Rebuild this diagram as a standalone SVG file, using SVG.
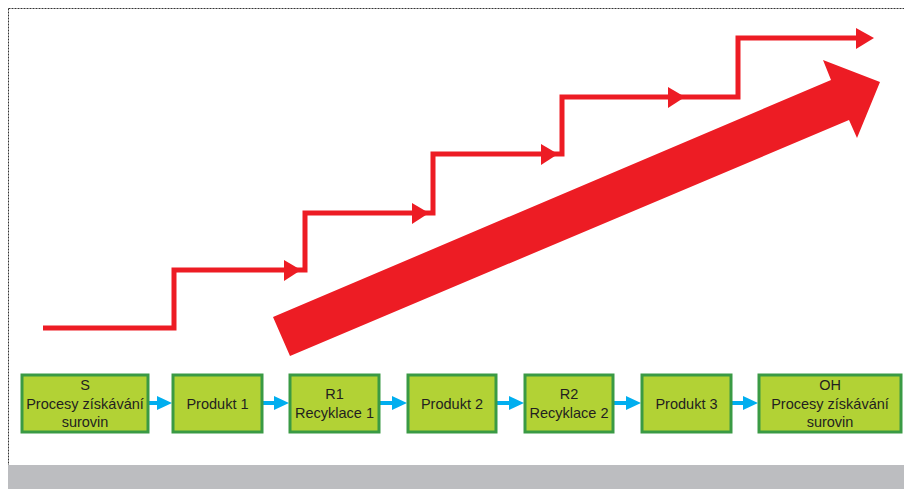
<svg xmlns="http://www.w3.org/2000/svg" width="904" height="489" viewBox="0 0 904 489">
<defs>
<style>
.box{fill:#b2d235;stroke:#3a9a44;stroke-width:3}
.lbl{font-family:"Liberation Sans",Arial,sans-serif;font-size:14.5px;fill:#231f20;text-anchor:middle}
.flow{stroke:#00aeef;stroke-width:4;fill:none}
.head{fill:#00aeef}
.stair{stroke:#ed1c24;stroke-width:5;fill:none;stroke-linejoin:miter}
.rhead{fill:#ed1c24}
</style>
</defs>
<rect x="0" y="0" width="904" height="489" fill="#ffffff"/>
<g id="frame">
<path d="M8.5 8.5 H904 M8.5 8.5 V465" stroke="#333" stroke-width="1" stroke-dasharray="2,1" fill="none"/>
<rect x="8" y="465" width="896" height="24" fill="#bcbdc0"/>
</g>
<g id="staircase">
<polyline class="stair" points="43,328 174,328 174,270 305,270 305,213 433,213 433,154 562,154 562,97 738,97 738,38 860,38"/>
<polygon class="rhead" points="284,260 301,270 284,281"/>
<polygon class="rhead" points="412,203 429,213 412,224"/>
<polygon class="rhead" points="541,144 558,154 541,165"/>
<polygon class="rhead" points="668,87 685,97 668,108"/>
<polygon class="rhead" points="856,28 874,38 856,49"/>
</g>
<g id="big-arrow">
<polygon class="rhead" points="273,317 831,80 823,60 880,82 857,138 849,120 290,356"/>
</g>
<g id="connectors">
<line class="flow" x1="149" y1="403" x2="159" y2="403"/>
<polygon class="head" points="157,396 172,403 157,410"/>
<line class="flow" x1="263" y1="403" x2="276" y2="403"/>
<polygon class="head" points="274,396 289,403 274,410"/>
<line class="flow" x1="380" y1="403" x2="394" y2="403"/>
<polygon class="head" points="392,396 407,403 392,410"/>
<line class="flow" x1="497" y1="403" x2="511" y2="403"/>
<polygon class="head" points="509,396 524,403 509,410"/>
<line class="flow" x1="614" y1="403" x2="628" y2="403"/>
<polygon class="head" points="626,396 641,403 626,410"/>
<line class="flow" x1="732" y1="403" x2="745" y2="403"/>
<polygon class="head" points="743,396 758,403 743,410"/>
</g>
<g id="node-s">
<rect class="box" x="22" y="375" width="126" height="57"/>
<text class="lbl" x="85" y="390">S</text>
<text class="lbl" x="85" y="409">Procesy získávání</text>
<text class="lbl" x="85" y="427">surovin</text>
</g>
<g id="node-p1">
<rect class="box" x="173" y="375" width="89" height="57"/>
<text class="lbl" x="217.5" y="409">Produkt 1</text>
</g>
<g id="node-r1">
<rect class="box" x="290" y="375" width="89" height="57"/>
<text class="lbl" x="334.5" y="399">R1</text>
<text class="lbl" x="334.5" y="418">Recyklace 1</text>
</g>
<g id="node-p2">
<rect class="box" x="408" y="375" width="88" height="57"/>
<text class="lbl" x="452" y="409">Produkt 2</text>
</g>
<g id="node-r2">
<rect class="box" x="525" y="375" width="88" height="57"/>
<text class="lbl" x="569" y="399">R2</text>
<text class="lbl" x="569" y="418">Recyklace 2</text>
</g>
<g id="node-p3">
<rect class="box" x="642" y="375" width="89" height="57"/>
<text class="lbl" x="686.5" y="409">Produkt 3</text>
</g>
<g id="node-oh">
<rect class="box" x="759" y="375" width="142" height="57"/>
<text class="lbl" x="830" y="390">OH</text>
<text class="lbl" x="830" y="409">Procesy získávání</text>
<text class="lbl" x="830" y="427">surovin</text>
</g>
</svg>
